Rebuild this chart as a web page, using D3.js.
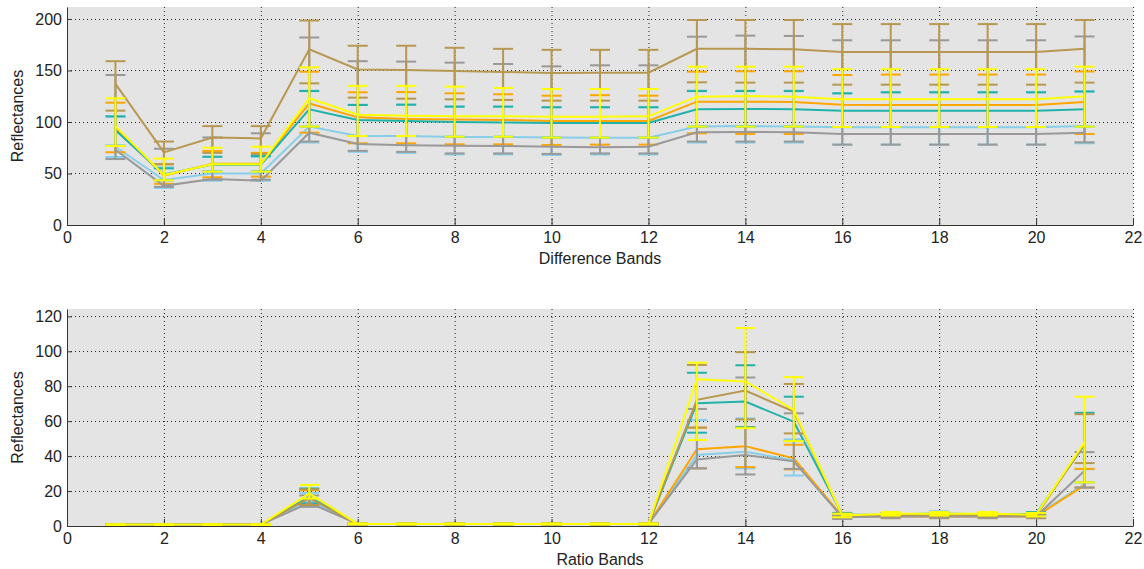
<!DOCTYPE html>
<html>
<head>
<meta charset="utf-8">
<script src="https://cdn.jsdelivr.net/npm/d3@7"></script>
<style>
body { margin: 0; background: #fff; }
text { font-family: "Liberation Sans", Arial, sans-serif; }
</style>
</head>
<body>
<div id="chart"></div>
<script>

var W = 1144, H = 569;

var bands = [1,2,3,4,5,6,7,8,9,10,11,12,13,14,15,16,17,18,19,20,21];
var xTicks = [0,2,4,6,8,10,12,14,16,18,20,22];
var diffTicks = [0,50,100,150,200];
var ratioTicks = [0,20,40,60,80,100,120];

// ---- difference bands (top)
var diffBlue   = [76,43.7,50,50,95.5,86.4,86.5,85.5,85.5,85,84.8,84.8,95.5,96.1,95.5,94.9,94.9,94.9,94.9,94.9,96];
var diffBlueHi = [105,56,66,66,130.4,116.8,116.8,114.9,114.9,114.3,114.3,114.3,130.4,130.4,130.4,127.8,128.8,128.8,128.8,128.8,130];
var diffBlueLo = [66,36,43,43,80,71,70,68.5,68.5,68,68.5,68.5,80,80,80,78,78,78,78,78,79.3];

var diffOrange   = [94,48,59.5,59.5,118,104.5,103,102.5,102,101,101,101,119.7,119.7,119.4,116.8,116.5,116.5,116.5,116.5,119.4];
var diffOrangeHi = [118.7,59,71.8,70,148.8,128.8,129,127.8,126.9,125.5,126,125.5,148.8,149.2,149.2,145.6,146,146,146,146,149];
var diffOrangeLo = [70.6,40,46.3,47,89.6,79.3,79.3,78.3,78.3,77.7,78,78,89,88.3,88.3,95.1,95.1,95.1,95.1,95.1,88.3];

var diffTeal   = [92,49,58.6,58.6,112.3,102,101,100,99.5,99,99,99,112.3,112.6,112.3,111,111,111,111,111,112.3];
var diffTealHi = [105.5,55,66.3,67,130,116.5,116.8,114.9,114.9,114.3,114.3,114.3,130,130,130,127.8,128.8,128.8,128.8,128.8,129.5];
var diffTealLo = [77,43.4,52,52,95.5,86.4,86.4,85.7,85.7,84.8,84.8,84.8,95.5,95.5,95.5,95.1,95.1,95.1,95.1,95.1,95.5];

var diffGray   = [73,38,44.7,43,89.6,78.6,77.5,77,76.8,76,75.5,76,90,90.3,90,88.3,88.3,88.3,88.3,88.3,89.5];
var diffGrayHi = [145.6,74,85,89,182,159,158.6,157.6,156.3,154,155,155,182.8,183.8,183.5,179.3,179.3,179.3,179.3,179.3,183];
var diffGrayLo = [64,37,44,44,81,72,71,69.5,69.5,69,69.5,69.5,81,81,81,78,78,78,78,78,80.3];

var diffBrown   = [137,70.5,85,84,170.5,151,150.5,149.5,148.5,147.5,147.8,147.8,171,171,170.5,168,168,168,168,168,171];
var diffBrownHi = [159,81,96,96,198.5,174,174,172,171,170,170,170,199,199,199,195,195,195,195,195,199];
var diffBrownLo = [111,59,70,69,137.5,123.6,122.6,122,121.4,120.7,120.7,120.7,138.5,138.2,138.2,136.2,136.2,136.2,136.2,136.2,138.2];

var diffYellow   = [96,48.5,59,59,123,107,106,105.5,105.5,105,105,105.5,124.6,125.2,124.6,122,122,122,122,122,125];
var diffYellowHi = [123,64.5,75,76,153,135,135,134.3,133,132,132,132,153.7,153.7,153.7,151.2,151.2,151.2,151.2,151.2,153.7];
var diffYellowLo = [76.7,43.4,51.8,51.8,95.5,86.4,86.4,85.7,85.7,84.8,84.8,84.8,95.5,95.5,95.5,95.1,95.1,95.1,95.1,95.1,95.5];

// ---- ratio bands (bottom)
var ratioBlue   = [0.8,0.8,0.8,0.8,14.5,1.2,1.2,1.2,1.2,1.2,1.2,1.2,40.6,42.5,37.5,5.5,6.5,7.5,6.5,6,24];
var ratioBlueHi = [1,1,1,1,19,1.5,1.5,1.5,1.5,1.5,1.5,1.5,60.7,61.6,49.6,6.5,7.5,8.5,7.5,7,32.5];
var ratioBlueLo = [0.6,0.6,0.6,0.6,11,0.9,0.9,0.9,0.9,0.9,0.9,0.9,33,33,28.9,4.5,5.5,6.5,5.5,5,22];

var ratioOrange   = [0.8,0.8,0.8,0.8,16.5,1.2,1.2,1.2,1.2,1.2,1.2,1.2,43.9,45.7,38.7,5.5,5.5,5.5,5.5,5.5,23.4];
var ratioOrangeHi = [1,1,1,1,20.5,1.5,1.5,1.5,1.5,1.5,1.5,1.5,56.3,56.5,46.5,6.5,6.5,6.5,6.5,6.5,32.7];
var ratioOrangeLo = [0.6,0.6,0.6,0.6,12.5,0.9,0.9,0.9,0.9,0.9,0.9,0.9,33,33.7,32.4,4.5,4.5,4.5,4.5,4.5,22];

var ratioTeal   = [0.8,0.8,0.8,0.8,16.5,1.2,1.2,1.2,1.2,1.2,1.2,1.2,70.3,71.2,59.7,6.5,6.5,7,6.5,7,46.5];
var ratioTealHi = [1,1,1,1,21.5,1.5,1.5,1.5,1.5,1.5,1.5,1.5,87.7,92,74,7.5,7.5,8,7.5,8,64.8];
var ratioTealLo = [0.6,0.6,0.6,0.6,13,0.9,0.9,0.9,0.9,0.9,0.9,0.9,53.4,56.5,48.6,5.5,5.5,6,5.5,6,25];

var ratioGray   = [0.8,0.8,0.8,0.8,13.2,1.2,1.2,1.2,1.2,1.2,1.2,1.2,38.1,40.6,37,5,5.5,5.5,5.5,5.5,31.6];
var ratioGrayHi = [1,1,1,1,17.5,1.5,1.5,1.5,1.5,1.5,1.5,1.5,67,85,64.5,6,6.5,6.5,6.5,6.5,42.3];
var ratioGrayLo = [0.6,0.6,0.6,0.6,11,0.9,0.9,0.9,0.9,0.9,0.9,0.9,33,29.5,32.7,4,4.5,4.5,4.5,4.5,22];

var ratioBrown   = [0.8,0.8,0.8,0.8,16,1.2,1.2,1.2,1.2,1.2,1.2,1.2,72.2,77.5,65.5,6,6.5,6.5,6.5,6,47];
var ratioBrownHi = [1,1,1,1,21,1.5,1.5,1.5,1.5,1.5,1.5,1.5,92.2,99.5,81.3,7,7.5,7.5,7.5,7,64];
var ratioBrownLo = [0.6,0.6,0.6,0.6,12,0.9,0.9,0.9,0.9,0.9,0.9,0.9,56.3,61,53,5,5.5,5.5,5.5,5,36];

var ratioYellow   = [0.8,0.8,0.8,0.8,18.6,1.2,1.2,1.2,1.2,1.2,1.2,1.2,84,82.7,66.4,6,7,7,7,6.5,48];
var ratioYellowHi = [1,1,1,1,23.5,1.5,1.5,1.5,1.5,1.5,1.5,1.5,93.5,113.3,85.2,7,8,8,8,7.5,74];
var ratioYellowLo = [0.6,0.6,0.6,0.6,15.7,0.9,0.9,0.9,0.9,0.9,0.9,0.9,49.2,56,48.6,5,6,6,6,5.5,25];

var colors = {blue:"#87ceeb", orange:"#ffa500", teal:"#20b2aa", gray:"#999999", brown:"#b89850", yellow:"#ffff00"};

// drawing order: later ones end up on top
var diffSeries = [
	{c:colors.blue,   y:diffBlue,   lo:diffBlueLo,   hi:diffBlueHi},
	{c:colors.orange, y:diffOrange, lo:diffOrangeLo, hi:diffOrangeHi},
	{c:colors.teal,   y:diffTeal,   lo:diffTealLo,   hi:diffTealHi},
	{c:colors.gray,   y:diffGray,   lo:diffGrayLo,   hi:diffGrayHi},
	{c:colors.brown,  y:diffBrown,  lo:diffBrownLo,  hi:diffBrownHi},
	{c:colors.yellow, y:diffYellow, lo:diffYellowLo, hi:diffYellowHi}
];
var ratioSeries = [
	{c:colors.blue,   y:ratioBlue,   lo:ratioBlueLo,   hi:ratioBlueHi},
	{c:colors.orange, y:ratioOrange, lo:ratioOrangeLo, hi:ratioOrangeHi},
	{c:colors.teal,   y:ratioTeal,   lo:ratioTealLo,   hi:ratioTealHi},
	{c:colors.gray,   y:ratioGray,   lo:ratioGrayLo,   hi:ratioGrayHi},
	{c:colors.brown,  y:ratioBrown,  lo:ratioBrownLo,  hi:ratioBrownHi},
	{c:colors.yellow, y:ratioYellow, lo:ratioYellowLo, hi:ratioYellowHi}
];

var svg = d3.select("#chart")
	.append("svg")
	.attr("width", W)
	.attr("height", H)
	.style("display", "block");

function panel(top, bottom, yMax, yTicks, xLabel, series){
	var x = d3.scaleLinear().domain([0,22]).range([67,1133]);
	var y = d3.scaleLinear().domain([0,yMax]).range([bottom, top]);
	var g = svg.append("g");

	g.append("rect")
		.attr("x", x(0)).attr("y", top)
		.attr("width", x(22) - x(0)).attr("height", bottom - top)
		.style("fill", "#e4e4e4");

	// dotted grid
	g.selectAll(".vgrid")
		.data(xTicks.slice(1))
		.enter().append("line")
		.attr("x1", function(d){ return x(d) + 0.5; })
		.attr("x2", function(d){ return x(d) + 0.5; })
		.attr("y1", top).attr("y2", bottom)
		.style("stroke", "#222").style("stroke-dasharray", "1,3");
	g.selectAll(".hgrid")
		.data(yTicks.slice(1))
		.enter().append("line")
		.attr("x1", x(0)).attr("x2", x(22))
		.attr("y1", function(d){ return Math.round(y(d)) + 0.5; })
		.attr("y2", function(d){ return Math.round(y(d)) + 0.5; })
		.style("stroke", "#222").style("stroke-dasharray", "1,3");

	// axes sit under the data, like matlab's default layer
	var xa = g.append("g")
		.attr("transform", "translate(0," + bottom + ")")
		.call(d3.axisBottom(x).tickValues(xTicks).tickSizeInner(-7).tickSizeOuter(0).tickPadding(7));
	var ya = g.append("g")
		.attr("transform", "translate(" + x(0) + ",0)")
		.call(d3.axisLeft(y).tickValues(yTicks).tickSizeInner(-5).tickSizeOuter(0).tickPadding(5));
	[xa, ya].forEach(function(a){
		a.selectAll("path, line").style("stroke", "#333");
		a.selectAll("text").style("font-size", "16px").style("fill", "#222")
			.style("font-family", "'Liberation Sans', Arial, sans-serif");
	});

	var line = d3.line()
		.x(function(d, i){ return x(bands[i]); })
		.y(function(d){ return y(d); });

	series.forEach(function(s){
		var sg = g.append("g");
		sg.append("path")
			.datum(s.y)
			.attr("d", line)
			.style("fill", "none")
			.style("stroke", s.c)
			.style("stroke-width", 2);
		var bars = sg.selectAll(".bar")
			.data(bands)
			.enter().append("g");
		bars.append("line")
			.attr("x1", function(d){ return x(d); })
			.attr("x2", function(d){ return x(d); })
			.attr("y1", function(d, i){ return y(s.hi[i]); })
			.attr("y2", function(d, i){ return y(s.lo[i]); })
			.style("stroke", s.c).style("stroke-width", 2);
		bars.append("line")
			.attr("x1", function(d){ return x(d) - 10; })
			.attr("x2", function(d){ return x(d) + 10; })
			.attr("y1", function(d, i){ return y(s.hi[i]); })
			.attr("y2", function(d, i){ return y(s.hi[i]); })
			.style("stroke", s.c).style("stroke-width", 2);
		bars.append("line")
			.attr("x1", function(d){ return x(d) - 10; })
			.attr("x2", function(d){ return x(d) + 10; })
			.attr("y1", function(d, i){ return y(s.lo[i]); })
			.attr("y2", function(d, i){ return y(s.lo[i]); })
			.style("stroke", s.c).style("stroke-width", 2);
	});

	g.append("text")
		.attr("x", (x(0) + x(22)) / 2)
		.attr("y", bottom + 39)
		.attr("text-anchor", "middle")
		.style("font-size", "16px").style("fill", "#222")
		.text(xLabel);
	g.append("text")
		.attr("transform", "translate(23," + ((top + bottom) / 2) + ") rotate(-90)")
		.attr("text-anchor", "middle")
		.style("font-size", "16px").style("fill", "#222")
		.text("Reflectances");
}

panel(7, 225, 211.6, diffTicks, "Difference Bands", diffSeries);
panel(309, 526, 124.2, ratioTicks, "Ratio Bands", ratioSeries);

</script>
</body>
</html>
